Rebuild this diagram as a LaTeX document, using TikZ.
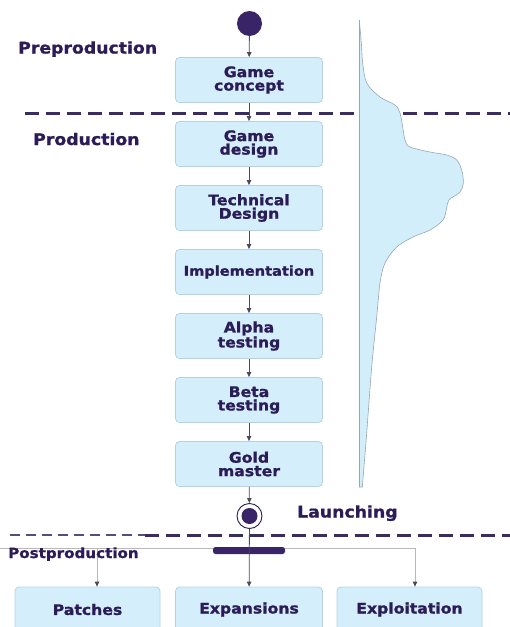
\documentclass[tikz,border=0pt]{standalone}
\usepackage{fontspec}
\setmainfont{DejaVu Sans}
\newfontfamily\dgfont{DejaVu Sans Bold}[FakeStretch=1.08,FakeBold=1.2]
\usetikzlibrary{arrows.meta}
\definecolor{ink}{HTML}{2B1C57}
\definecolor{boxfill}{HTML}{D4EEFB}
\definecolor{boxline}{HTML}{B5D2E4}
\definecolor{arrc}{HTML}{4A4A58}
\definecolor{dashc}{HTML}{3B2B63}
\definecolor{dotc}{HTML}{3A2468}
\definecolor{forkc}{HTML}{B8B8B8}
\definecolor{curvefill}{HTML}{D3EEFB}
\definecolor{curveline}{HTML}{97A6B5}
\begin{document}
\begin{tikzpicture}[x=1pt,y=-1pt,
  stage/.style={draw=boxline, line width=0.8pt, fill=boxfill, rounded corners=4pt,
    minimum width=147pt, minimum height=45pt, text=ink, align=center,
    font=\dgfont\fontsize{14.5}{13.5}\selectfont, inner sep=0pt},
  phase/.style={text=ink, font=\dgfont\fontsize{16}{18}\selectfont, anchor=base west, inner sep=0pt},
  flow/.style={draw=arrc, line width=0.8pt, -{Triangle[length=5pt,width=4.5pt]}},
  forkline/.style={draw=forkc, line width=0.8pt},
  forkarrow/.style={draw=forkc, line width=0.8pt, -{Triangle[length=5pt,width=4.5pt,color=arrc]}},
  phaseline/.style={draw=dashc, line width=3pt, dash pattern=on 14pt off 7pt},
]
\useasboundingbox (0,0) rectangle (510,627);

% phase separators
\draw[phaseline] (25,113) -- (510,113);
\draw[draw=dashc!85, line width=1.4pt, dash pattern=on 10pt off 6pt] (10,535) -- (145,535);
\draw[phaseline] (145,535) -- (510,535);

% effort curve
\filldraw[fill=curvefill, draw=curveline, line width=0.6pt]
  plot[smooth, tension=0.55] coordinates {
    (359.3,20) (361.5,45) (362.7,63) (366.7,83) (380,97) (395,105) (400,113)
    (402.7,127) (405,140) (410,147) (430,152) (446.7,155) (456.7,160) (461.7,170)
    (463.3,183) (460,192) (449,200) (446.7,208) (443,220) (430,230) (413,237)
    (396.7,247) (385,263) (380,283) (376.7,317) (371.7,367) (366.7,433) (362.3,487)}
  -- (359.3,487) -- cycle;
\draw[curveline, line width=0.8pt] (359.3,20) -- (359.3,487);

% phase labels
\node[phase] (pre) at (18,53.5) {Preproduction};
\node[phase] (prod) at (33,145) {Production};
\node[phase] (launch) at (297,517.5) {Launching};

% stages
\node[circle, fill=dotc, minimum size=25pt, inner sep=0pt] (start) at (249.5,23.5) {};
\node[stage] (c1) at (249,80) {Game\\concept};
\node[stage] (c2) at (249,144) {Game\\design};
\node[stage] (c3) at (249,208) {Technical\\Design};
\node[stage, font=\dgfont\fontsize{13.5}{13.5}\selectfont] (c4) at (249,272) {Implementation};
\node[stage] (c5) at (249,336) {Alpha\\testing};
\node[stage] (c6) at (249,400) {Beta\\testing};
\node[stage] (c7) at (249,464) {Gold\\master};
\node[circle, draw=ink, line width=0.9pt, fill=white, minimum size=25pt, inner sep=0pt] (end) at (249.5,516) {};
\node[circle, fill=dotc, minimum size=16pt, inner sep=0pt] (endin) at (end) {};

\draw[flow] (start) -- (c1);
\draw[flow] (c1) -- (c2);
\draw[flow] (c2) -- (c3);
\draw[flow] (c3) -- (c4);
\draw[flow] (c4) -- (c5);
\draw[flow] (c5) -- (c6);
\draw[flow] (c6) -- (c7);
\draw[flow] (c7) -- (end);

% post production
\node[stage, minimum width=145pt] (patch) at (87.5,609.5) {Patches};
\node[stage, minimum width=147pt] (expa) at (249,609.5) {Expansions};
\node[stage, minimum width=145pt] (expl) at (409.5,609.5) {Exploitation};

\coordinate (fo) at (0,548);
\coordinate (fl) at (97,548);
\coordinate (fr) at (415,548);
\draw[forkline] (fo) -- (fr);
\draw[forkarrow] (fl) -- (fl |- patch.north);
\draw[forkarrow] (fr) -- (fr |- expl.north);
\node[phase, font=\dgfont\fontsize{14}{16}\selectfont] (post) at (8,558) {Postproduction};
\node[fill=dotc, rounded corners=2.5pt, minimum width=72pt, minimum height=7pt, inner sep=0pt] (bar) at (249,550.5) {};
\draw[flow] (end) -- (expa);
\end{tikzpicture}
\end{document}
